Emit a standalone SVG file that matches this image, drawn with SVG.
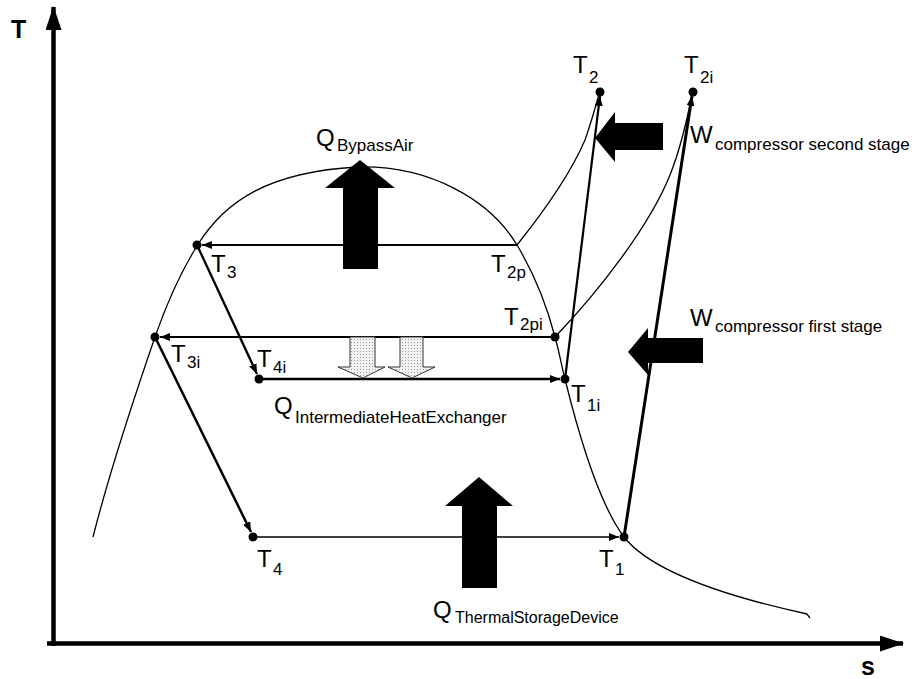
<svg xmlns="http://www.w3.org/2000/svg" width="919" height="679" viewBox="0 0 919 679">
<style>
text{font-family:"Liberation Sans",Arial,sans-serif;fill:#000}
.m{font-size:24px}
.s{font-size:17px}
.ax{font-size:25px;font-weight:bold}
.curve{fill:none;stroke:#000;stroke-width:1.3}
.cyc{fill:none;stroke:#000}
.big{fill:#000}
.hollow{fill:url(#dots);stroke:#333;stroke-width:1}
</style>
<defs>
<marker id="ah" viewBox="0 0 10 8" markerWidth="10" markerHeight="8" refX="10" refY="4" orient="auto" markerUnits="userSpaceOnUse">
<path d="M0,0 L10,4 L0,8 z" fill="#000"/>
</marker>
<pattern id="dots" width="3" height="3" patternUnits="userSpaceOnUse">
<rect width="3" height="3" fill="#f2f2f2"/>
<rect width="1" height="1" fill="#9a9a9a"/>
</pattern>
<marker id="axh" viewBox="0 0 24 16" markerWidth="24" markerHeight="16" refX="23" refY="8" orient="auto" markerUnits="userSpaceOnUse">
<path d="M0,0 L24,8 L0,16 z" fill="#000"/>
</marker>
</defs>

<g id="axes">
<line x1="53.5" y1="646" x2="53.5" y2="7" stroke="#000" stroke-width="4.5" marker-end="url(#axh)"/>
<line x1="47" y1="643.5" x2="903" y2="643.5" stroke="#000" stroke-width="4.5" marker-end="url(#axh)"/>
<text class="ax" x="11" y="38">T</text>
<text class="ax" x="861" y="675">s</text>
</g>

<g id="dome">
<path class="curve" d="M93,537 C110,470 135,395 155,337 C168,300 182,270 197,246 C225,200 270,172 357,167 C430,165 490,200 517,245 C535,275 548,310 555,337 C560,355 562,368 565,379 C580,440 600,505 624,537 C650,570 720,595 807,614 L810,618"/>
<path class="curve" d="M517,245 C545,210 570,175 585,140 C592,120 596,105 599,94"/>
<path class="curve" d="M555,337 C600,290 650,225 670,175 C680,150 687,120 692,95"/>
</g>

<g id="connectors">
<line class="cyc" x1="517" y1="245" x2="202" y2="245" stroke-width="1.8" marker-end="url(#ah)"/>
<line class="cyc" x1="555" y1="337" x2="160" y2="337" stroke-width="2" marker-end="url(#ah)"/>
<line class="cyc" x1="259" y1="379" x2="560" y2="379" stroke-width="2.5" marker-end="url(#ah)"/>
<line class="cyc" x1="253" y1="537" x2="619" y2="537" stroke-width="1.6" marker-end="url(#ah)"/>
<line class="cyc" x1="197" y1="245" x2="257" y2="374" stroke-width="2.3" marker-end="url(#ah)"/>
<line class="cyc" x1="155" y1="337" x2="251" y2="532" stroke-width="2.5" marker-end="url(#ah)"/>
<line class="cyc" x1="565" y1="379" x2="600" y2="96" stroke-width="2.2" marker-end="url(#ah)"/>
<line class="cyc" x1="624" y1="537" x2="692" y2="96" stroke-width="3" marker-end="url(#ah)"/>
</g>

<g id="points" fill="#000">
<circle cx="197" cy="245" r="4.5"/>
<circle cx="155" cy="337" r="4.5"/>
<circle cx="259" cy="379" r="4.5"/>
<circle cx="565" cy="379" r="4.5"/>
<circle cx="555" cy="337" r="4.5"/>
<circle cx="253" cy="537" r="4.5"/>
<circle cx="624" cy="537" r="4.5"/>
<circle cx="600" cy="92" r="4.5"/>
<circle cx="693" cy="92" r="4.5"/>
</g>

<g id="q-bypass">
<polygon class="big" points="360,160 395,188 378,188 378,269 343,269 343,188 325,188"/>
<text class="m" x="316" y="146">Q</text><text class="s" x="337" y="151">BypassAir</text>
</g>

<g id="q-thermal">
<polygon class="big" points="479,477 513,506 497,506 497,588 462,588 462,506 445,506"/>
<text class="m" x="433" y="618">Q</text><text x="455" y="623" style="font-size:16px">ThermalStorageDevice</text>
</g>

<g id="w-second">
<polygon class="big" points="595,138 615,112 615,123 663,123 663,150 615,150 615,162"/>
<text class="m" x="690" y="143">W</text><text class="s" x="715" y="150">compressor second stage</text>
</g>

<g id="w-first">
<polygon class="big" points="628,352 648,328 648,338 703,338 703,363 648,363 648,375"/>
<text class="m" x="690" y="326">W</text><text class="s" x="715" y="332">compressor first stage</text>
</g>

<g id="q-ihx">
<polygon class="hollow" points="350,337 375,337 375,367 385,367 363,378 338,367 350,367"/>
<polygon class="hollow" points="400,337 423,337 423,367 435,367 412,378 388,367 400,367"/>
<text class="m" x="274" y="414">Q</text><text class="s" x="295" y="423">IntermediateHeatExchanger</text>
</g>

<g id="labels">
<text class="m" x="573" y="73">T</text><text class="s" x="589" y="83">2</text>
<text class="m" x="684" y="73">T</text><text class="s" x="700" y="83">2i</text>
<text class="m" x="211" y="272">T</text><text class="s" x="227" y="278">3</text>
<text class="m" x="491" y="272">T</text><text class="s" x="507" y="278">2p</text>
<text class="m" x="504" y="325">T</text><text class="s" x="520" y="330">2pi</text>
<text class="m" x="171" y="362">T</text><text class="s" x="187" y="368">3i</text>
<text class="m" x="257" y="367">T</text><text class="s" x="273" y="373">4i</text>
<text class="m" x="571" y="402">T</text><text class="s" x="587" y="411">1i</text>
<text class="m" x="257" y="567">T</text><text class="s" x="273" y="575">4</text>
<text class="m" x="599" y="567">T</text><text class="s" x="615" y="575">1</text>
</g>
</svg>
